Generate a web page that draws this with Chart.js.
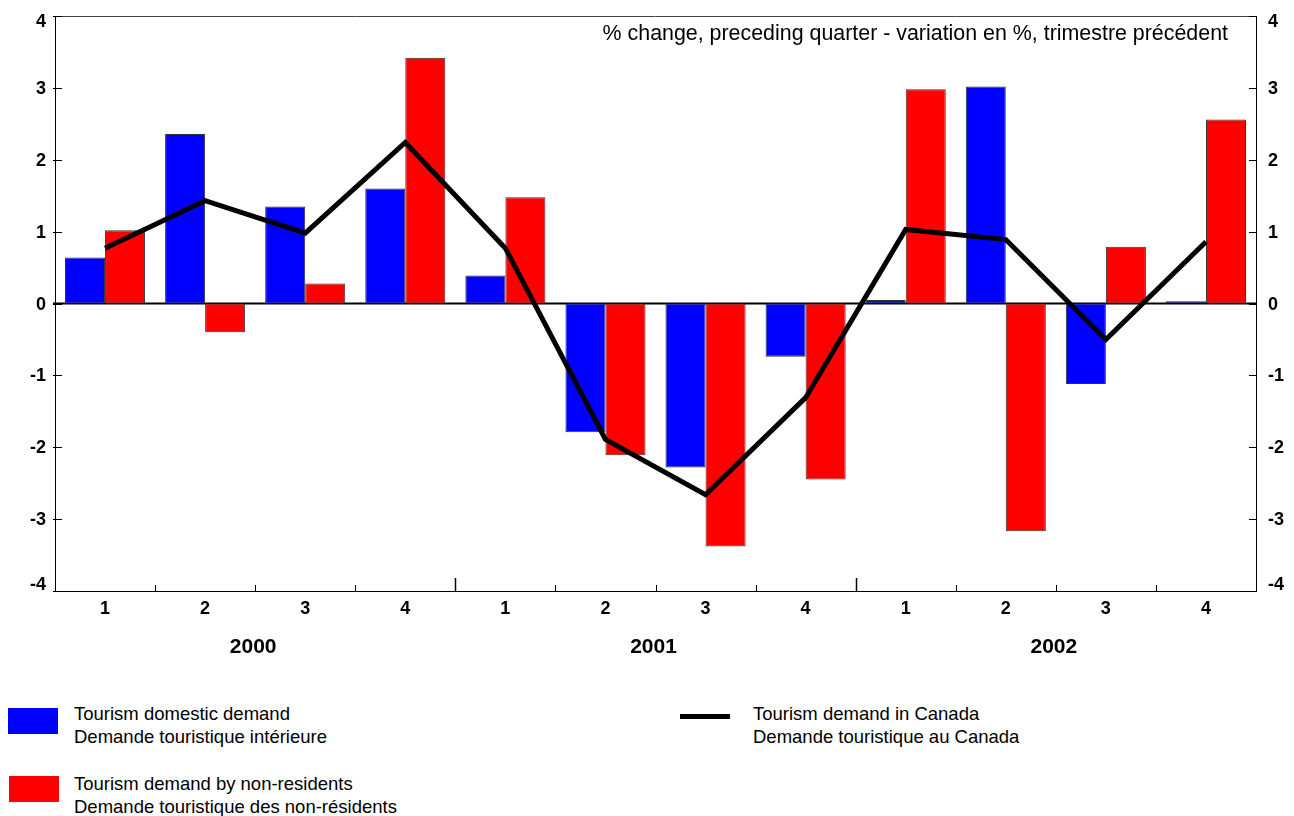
<!DOCTYPE html>
<html>
<head>
<meta charset="utf-8">
<script src="https://cdn.jsdelivr.net/npm/chart.js@4"></script>
<style>
  html, body { margin: 0; padding: 0; background: #fff; }
  body { width: 1294px; height: 816px; position: relative; overflow: hidden;
         font-family: "Liberation Sans", Arial, sans-serif; color: #000; }
  #wrap { position: absolute; left: 0; top: 0; width: 1294px; height: 690px; }
  .note { position: absolute; right: 66px; top: 23px; font-size: 21.4px; line-height: 21px; white-space: nowrap; }
  .sw { position: absolute; width: 50px; height: 26px; }
  .ln { position: absolute; width: 50px; height: 5px; background: #000; }
  .lt { position: absolute; font-size: 18.5px; line-height: 23px; white-space: nowrap; }
</style>
</head>
<body>
<div id="wrap"><canvas id="c"></canvas></div>
<div class="note">% change, preceding quarter - variation en %, trimestre précédent</div>

<div class="sw" style="left:8px;top:708px;background:#0000ff"></div>
<div class="lt" style="left:74px;top:702px">Tourism domestic demand<br>Demande touristique intérieure</div>
<div class="sw" style="left:9px;top:776px;background:#ff0000"></div>
<div class="lt" style="left:74px;top:772px">Tourism demand by non-residents<br>Demande touristique des non-résidents</div>
<div class="ln" style="left:680px;top:714px"></div>
<div class="lt" style="left:753px;top:702px">Tourism demand in Canada<br>Demande touristique au Canada</div>

<script>
'use strict';

// ---------------------------------------------------------------- data
const quarters = ['1', '2', '3', '4', '1', '2', '3', '4', '1', '2', '3', '4'];
const years = ['2000', '2001', '2002'];
const domestic = [0.64, 2.36, 1.35, 1.60, 0.39, -1.79, -2.28, -0.74, 0.05, 3.02, -1.12, 0.03];
const nonResidents = [1.02, -0.40, 0.28, 3.42, 1.48, -2.11, -3.38, -2.45, 2.98, -3.17, 0.79, 2.56];
const inCanada = [0.77, 1.43, 0.98, 2.24, 0.77, -1.89, -2.66, -1.31, 1.03, 0.89, -0.50, 0.86];
const yTicks = [-4, -3, -2, -1, 0, 1, 2, 3, 4];

const FONT = '"Liberation Sans", Arial, sans-serif';

// ---------------------------------------------------------------- frame, ticks, labels, years
const frame = {
  id: 'frame',
  beforeDatasetsDraw(chart) {
    const { ctx, chartArea: a, scales: { y } } = chart;
    ctx.save();
    ctx.strokeStyle = '#000'; ctx.lineWidth = 2;
    const py = y.getPixelForValue(0);
    ctx.beginPath(); ctx.moveTo(a.left - 2, py); ctx.lineTo(a.right + 1, py); ctx.stroke();
    ctx.restore();
  },
  afterDatasetsDraw(chart) {
    const { ctx, chartArea: a, scales: { x, y } } = chart;
    ctx.save();
    // top border
    ctx.strokeStyle = '#444'; ctx.lineWidth = 1;
    ctx.beginPath(); ctx.moveTo(a.left, a.top + 0.5); ctx.lineTo(a.right, a.top + 0.5); ctx.stroke();
    // inward ticks + labels on both value axes (end labels nudged inside like the source)
    ctx.strokeStyle = '#000';
    ctx.font = 'bold 18px ' + FONT; ctx.fillStyle = '#000'; ctx.textBaseline = 'middle';
    yTicks.forEach((v) => {
      const py = Math.round(y.getPixelForValue(v)) + 0.5;
      ctx.beginPath(); ctx.moveTo(a.left - 2, py); ctx.lineTo(a.left + 7, py); ctx.stroke();
      ctx.beginPath(); ctx.moveTo(a.right - 7, py); ctx.lineTo(a.right, py); ctx.stroke();
      const ly = Math.min(Math.max(py, a.top + 5), a.bottom - 7) + 1;
      ctx.textAlign = 'right'; ctx.fillText(String(v), a.left - 9, ly);
      ctx.textAlign = 'left'; ctx.fillText(String(v), a.right + 12, ly);
    });
    // quarter boundaries on the bottom axis, longer at year boundaries
    for (let i = 1; i < quarters.length; i++) {
      const px = Math.round((x.getPixelForValue(i - 1) + x.getPixelForValue(i)) / 2) + 0.5;
      const len = i % 4 === 0 ? 13 : 6;
      ctx.lineWidth = i % 4 === 0 ? 1.5 : 1;
      ctx.beginPath(); ctx.moveTo(px, a.bottom); ctx.lineTo(px, a.bottom - len); ctx.stroke();
    }
    ctx.restore();
  },
  afterDraw(chart) {
    const { ctx, scales: { x } } = chart;
    ctx.save();
    ctx.font = 'bold 21px ' + FONT;
    ctx.fillStyle = '#000'; ctx.textAlign = 'center'; ctx.textBaseline = 'alphabetic';
    years.forEach((yr, i) => {
      const cx = (x.getPixelForValue(i * 4) + x.getPixelForValue(i * 4 + 3)) / 2;
      ctx.fillText(yr, cx - 2, 653);
    });
    ctx.restore();
  },
};

// ---------------------------------------------------------------- chart
const noGrid = { display: false, drawTicks: false };

new Chart(document.getElementById('c'), {
  type: 'bar',
  data: {
    labels: quarters,
    datasets: [
      { type: 'line', label: 'Tourism demand in Canada', data: inCanada, order: 0,
        borderColor: '#000', borderWidth: 5, pointRadius: 0, tension: 0,
        borderJoinStyle: 'miter', borderCapStyle: 'butt', fill: false },
      { label: 'Tourism domestic demand', data: domestic, order: 1,
        backgroundColor: '#0000ff', borderColor: '#333', borderWidth: 1, borderSkipped: false },
      { label: 'Tourism demand by non-residents', data: nonResidents, order: 1,
        backgroundColor: '#ff0000', borderColor: '#333', borderWidth: 1, borderSkipped: false },
    ],
  },
  options: {
    responsive: true, maintainAspectRatio: false, animation: false,
    categoryPercentage: 0.8, barPercentage: 1.0,
    layout: { padding: { top: 16, left: 0, right: 0, bottom: 0 } },
    plugins: { legend: { display: false }, tooltip: { enabled: false } },
    scales: {
      x: {
        offset: true,
        grid: noGrid,
        border: { display: true, color: '#000', width: 1 },
        ticks: { color: '#000', font: { family: FONT, size: 18, weight: 'bold' }, padding: 7, maxRotation: 0, autoSkip: false },
        afterFit: (s) => { s.height = 99; },
      },
      y: {
        position: 'left', min: -4, max: 4,
        grid: noGrid,
        border: { display: true, color: '#000', width: 1 },
        ticks: { stepSize: 1, display: false },
        afterFit: (s) => { s.width = 55; },
      },
      y2: {
        position: 'right', min: -4, max: 4,
        grid: noGrid,
        border: { display: true, color: '#000', width: 1 },
        ticks: { stepSize: 1, display: false },
        afterFit: (s) => { s.width = 38; },
      },
    },
  },
  plugins: [frame],
});
</script>
</body>
</html>
